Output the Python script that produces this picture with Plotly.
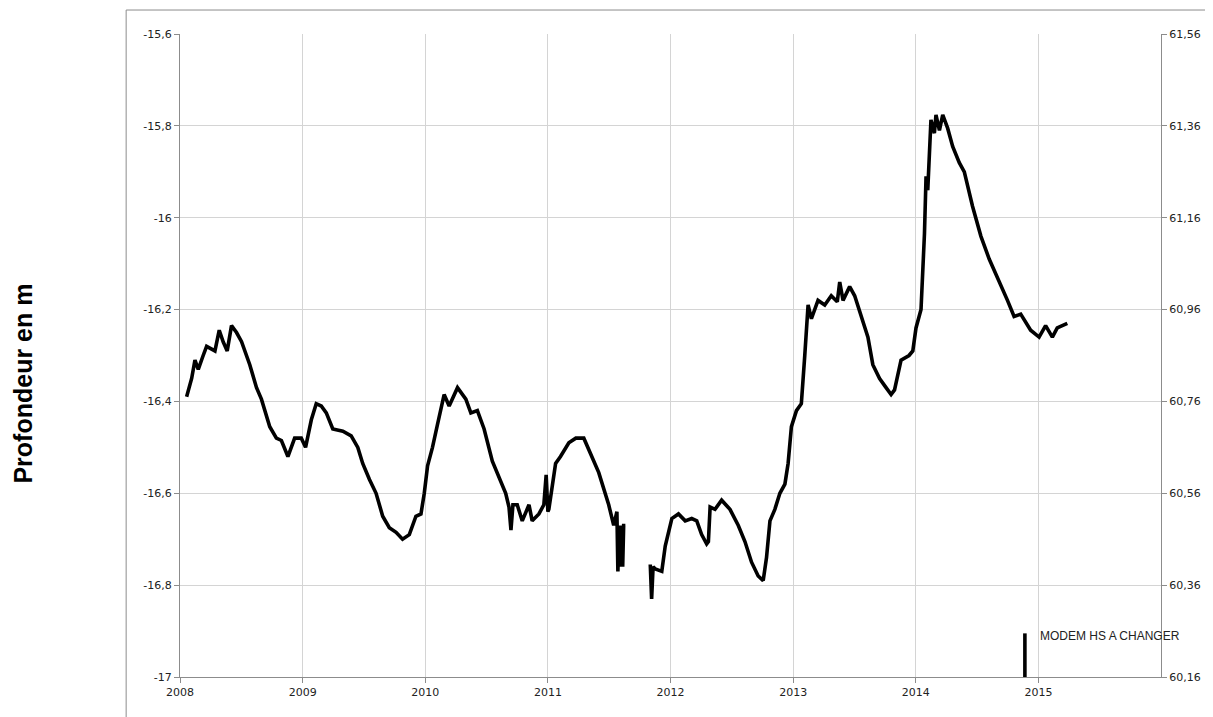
import plotly.graph_objects as go

# Decimal years and depth (m)
years_a = [2008.054, 2008.095, 2008.122, 2008.149, 2008.189, 2008.217, 2008.285, 2008.320, 2008.352, 2008.385,
           2008.420, 2008.461, 2008.502, 2008.569, 2008.624, 2008.664, 2008.732, 2008.786, 2008.827, 2008.880,
           2008.935, 2008.989, 2009.024, 2009.071, 2009.111, 2009.152, 2009.193, 2009.246, 2009.328, 2009.396,
           2009.450, 2009.490, 2009.545, 2009.599, 2009.653, 2009.707, 2009.762, 2009.815, 2009.870, 2009.924,
           2009.965, 2009.992, 2010.019, 2010.059, 2010.100, 2010.154, 2010.195, 2010.263, 2010.331, 2010.372,
           2010.425, 2010.480, 2010.547, 2010.602, 2010.656, 2010.683, 2010.699, 2010.715, 2010.750, 2010.791,
           2010.846, 2010.872, 2010.927, 2010.967, 2010.986, 2011.000, 2011.008, 2011.063, 2011.103, 2011.171,
           2011.228, 2011.293, 2011.333, 2011.415, 2011.496, 2011.537, 2011.563, 2011.571, 2011.581, 2011.591,
           2011.602, 2011.610, 2011.618, 2011.632]
depth_a = [-16.39, -16.35, -16.31, -16.33, -16.30, -16.28, -16.29, -16.245, -16.27, -16.29,
           -16.235, -16.25, -16.27, -16.32, -16.37, -16.395, -16.455, -16.48, -16.485, -16.52,
           -16.48, -16.48, -16.50, -16.44, -16.405, -16.41, -16.425, -16.46, -16.465, -16.475,
           -16.50, -16.535, -16.57, -16.60, -16.65, -16.675, -16.685, -16.70, -16.69, -16.65,
           -16.645, -16.60, -16.54, -16.50, -16.45, -16.385, -16.41, -16.37, -16.395, -16.425,
           -16.42, -16.46, -16.53, -16.565, -16.60, -16.63, -16.68, -16.625, -16.625, -16.66,
           -16.625, -16.66, -16.645, -16.625, -16.56, -16.64, -16.635, -16.535, -16.52, -16.49,
           -16.48, -16.48, -16.505, -16.555, -16.625, -16.67, -16.64, -16.77, -16.67, -16.76,
           -16.67, -16.76, -16.67, -16.67]

years_b = [2011.835, 2011.846, 2011.858, 2011.876, 2011.929, 2011.957, 2012.011, 2012.065, 2012.120, 2012.173,
           2012.214, 2012.254, 2012.295, 2012.309, 2012.323, 2012.363, 2012.417, 2012.485, 2012.553, 2012.607,
           2012.661, 2012.715, 2012.756, 2012.783, 2012.811, 2012.851, 2012.892, 2012.933, 2012.959, 2012.986,
           2013.027, 2013.067, 2013.095, 2013.122, 2013.149, 2013.203, 2013.258, 2013.311, 2013.360, 2013.380,
           2013.407, 2013.461, 2013.502, 2013.555, 2013.610, 2013.650, 2013.705, 2013.758, 2013.799, 2013.827,
           2013.880, 2013.945, 2013.976, 2014.002, 2014.043, 2014.071, 2014.084, 2014.098, 2014.124, 2014.152,
           2014.165, 2014.193, 2014.220, 2014.260, 2014.301, 2014.355, 2014.396, 2014.463, 2014.531, 2014.599,
           2014.667, 2014.748, 2014.802, 2014.856, 2014.937, 2015.006, 2015.059, 2015.114, 2015.154, 2015.236]
depth_b = [-16.755, -16.83, -16.76, -16.765, -16.77, -16.715, -16.655, -16.645, -16.66, -16.655,
           -16.66, -16.69, -16.71, -16.705, -16.63, -16.635, -16.615, -16.635, -16.67, -16.705,
           -16.75, -16.78, -16.79, -16.74, -16.66, -16.635, -16.60, -16.58, -16.535, -16.455,
           -16.42, -16.405, -16.30, -16.19, -16.22, -16.18, -16.19, -16.17, -16.183, -16.14,
           -16.18, -16.15, -16.17, -16.215, -16.26, -16.32, -16.35, -16.37, -16.385, -16.375,
           -16.31, -16.30, -16.29, -16.24, -16.20, -16.035, -15.91, -15.94, -15.787, -15.816,
           -15.776, -15.81, -15.776, -15.805, -15.845, -15.88, -15.90, -15.975, -16.04, -16.09,
           -16.13, -16.18, -16.215, -16.21, -16.245, -16.26, -16.235, -16.26, -16.24, -16.23]

modem_year = [2014.89, 2014.89]
modem_depth = [-17.0, -16.905]
modem_label = "MODEM HS A CHANGER"

left_ticks = [-17.0, -16.8, -16.6, -16.4, -16.2, -16.0, -15.8, -15.6]
left_labels = ["-17", "-16,8", "-16,6", "-16,4", "-16,2", "-16", "-15,8", "-15,6"]
right_ticks = [60.16, 60.36, 60.56, 60.76, 60.96, 61.16, 61.36, 61.56]
right_labels = ["60,16", "60,36", "60,56", "60,76", "60,96", "61,16", "61,36", "61,56"]
year_ticks = [2008, 2009, 2010, 2011, 2012, 2013, 2014, 2015]
year_labels = [str(y) for y in year_ticks]

tickfont = dict(family="DejaVu Sans", size=11, color="#222222")
grid = "#d4d4d4"
axisline = "#8c8c8c"

fig = go.Figure()
fig.add_trace(go.Scatter(x=years_a + [None] + years_b, y=depth_a + [None] + depth_b,
                         mode="lines", line=dict(color="black", width=3.6),
                         connectgaps=False, showlegend=False, hoverinfo="skip"))
fig.add_trace(go.Scatter(x=modem_year, y=modem_depth, mode="lines",
                         line=dict(color="black", width=3.6), showlegend=False))
fig.add_trace(go.Scatter(x=[2008, 2016], y=[right_ticks[0], right_ticks[-1]], yaxis="y2",
                         mode="markers", marker=dict(opacity=0), showlegend=False, hoverinfo="skip"))

fig.update_layout(
    width=1205, height=709,
    margin=dict(l=172, r=49, t=26, b=40),
    plot_bgcolor="white", paper_bgcolor="white",
    xaxis=dict(range=[2008, 2016], tickvals=year_ticks, ticktext=year_labels,
               showgrid=True, gridcolor=grid, gridwidth=1, zeroline=False,
               showline=True, linecolor=axisline, linewidth=1,
               ticks="outside", ticklen=5, tickcolor=axisline, tickfont=tickfont),
    yaxis=dict(range=[-17.0, -15.6], tickvals=left_ticks, ticktext=left_labels,
               showgrid=True, gridcolor=grid, gridwidth=1, zeroline=False,
               showline=True, linecolor=axisline, linewidth=1,
               ticks="outside", ticklen=5, tickcolor=axisline, tickfont=tickfont),
    yaxis2=dict(range=[60.16, 61.56], tickvals=right_ticks, ticktext=right_labels,
                overlaying="y", side="right", showgrid=False, zeroline=False,
                showline=True, linecolor=axisline, linewidth=1,
                ticks="outside", ticklen=5, tickcolor=axisline, tickfont=tickfont),
    shapes=[dict(type="rect", xref="paper", yref="paper",
                 x0=-0.0549, x1=1.2, y0=-0.2, y1=1.0373,
                 line=dict(color="#8c8c8c", width=1), fillcolor="rgba(0,0,0,0)", layer="below")],
    annotations=[
        dict(text="Profondeur en m", xref="paper", yref="paper", x=-0.1596, y=0.457,
             xanchor="center", yanchor="middle", borderpad=0,
             textangle=-90, showarrow=False,
             font=dict(family="Liberation Sans", size=25, color="black", weight="bold")),
        dict(text=modem_label, x=modem_year[0], y=modem_depth[1], xref="x", yref="y",
             xanchor="left", yanchor="middle", xshift=13, yshift=-3, showarrow=False,
             font=dict(family="Liberation Sans", size=12, color="#222222")),
    ],
)

fig.write_html("out.html")
